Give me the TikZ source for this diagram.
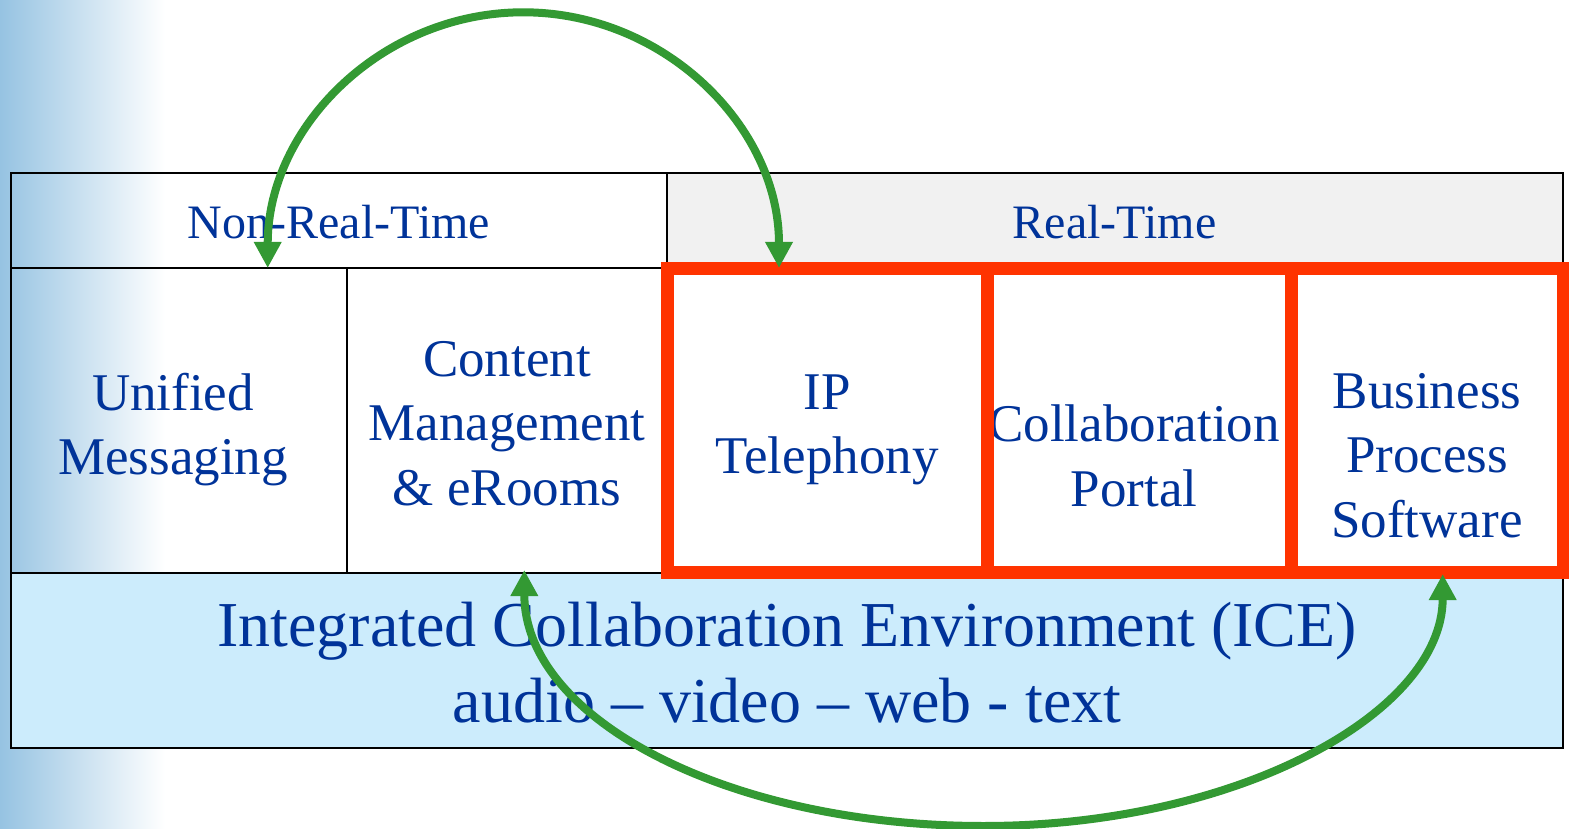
\documentclass[tikz,border=0pt]{standalone}
\usepackage{fontspec}
\setmainfont{Liberation Serif}
\usetikzlibrary{arrows.meta}

\definecolor{labelblue}{RGB}{0,51,153}
\definecolor{iceblue}{RGB}{204,236,252}
\definecolor{headgray}{RGB}{241,241,241}
\definecolor{focusred}{RGB}{255,51,0}
\definecolor{linkgreen}{RGB}{51,153,51}
\definecolor{skyblue}{RGB}{150,195,226}

\begin{document}
\begin{tikzpicture}[x=1pt,y=-1pt,
  grid/.style={draw=black,line width=2pt},
  head/.style={font=\fontsize{48}{56}\selectfont,text=labelblue,inner sep=0pt,anchor=base},
  cell/.style={font=\fontsize{53}{64.3}\selectfont,text=labelblue,align=center,inner sep=0pt,
    execute at begin node={\rule{0pt}{40pt}},
    execute at end node={\rule[-14pt]{0pt}{14pt}}},
  ice/.style={font=\fontsize{64}{76.7}\selectfont,text=labelblue,align=center,inner sep=0pt,
    execute at begin node={\rule{0pt}{48pt}},
    execute at end node={\rule[-16pt]{0pt}{16pt}}},
  focus/.style={draw=focusred,line width=12.5pt},
  >={Triangle[length=26pt,width=26pt]},
  link/.style={draw=linkgreen,line width=8pt,<->}]

% page and soft sky strip on the left
\fill[white] (0,0) rectangle (1569,829);
\useasboundingbox (0,0) rectangle (1569,829);
\fill[left color=skyblue,middle color=skyblue!45!white,right color=white] (0,0) rectangle (165,829);

% table fills and grid
\fill[headgray] (667,173) rectangle (1563,268);
\fill[iceblue] (11,572.5) rectangle (1563,748);
\draw[grid] (11,173) rectangle (1563,748);
\draw[grid] (11,268) -- (1563,268);
\draw[grid] (11,572.5) -- (1563,572.5);
\draw[grid] (667,173) -- (667,572.5);
\draw[grid] (347,268) -- (347,572.5);

% headers
\node[head] (nrt) at (339,239) {Non-Real-Time};
\node[head] (rt) at (1114.5,239) {Real-Time};

% application cells
\node[cell] (um) at (173,430.6) {Unified\\Messaging};
\node[cell] (cm) at (507,430.2) {Content\\Management\\\& eRooms};
\node[cell] (ipt) at (827,431) {IP\\Telephony};
\node[cell] (cp) at (1134,462.7) {Collaboration\\Portal};
\node[cell] (bps) at (1427,462.2) {Business\\Process\\Software};

% environment band
\node[ice] (ice) at (787,670.4) {Integrated Collaboration Environment (ICE)\\audio \textendash{} video \textendash{} web - text};

% highlighted real-time applications
\draw[focus] (667.5,268.5) rectangle (987.5,572.5);
\draw[focus] (987.5,268.5) rectangle (1291.5,572.5);
\draw[focus] (1291.5,268.5) rectangle (1563.5,572.5);

% link ends
\coordinate (umIn) at (267.7,268);
\coordinate (topArc) at (523.3,12.3);
\coordinate (ipIn) at (779,268);
\coordinate (cmIn) at (524.3,570);
\coordinate (lowArc) at (983.5,826);
\coordinate (bpIn) at (1442.7,574);

% links
\draw[link] (umIn) .. controls +(0,-141.2) and +(-141.2,0) .. (topArc)
  .. controls +(141.2,0) and +(0,-141.2) .. (ipIn);
\draw[link] (cmIn) .. controls +(0,150) and +(-253.6,0) .. (lowArc)
  .. controls +(253.6,0) and +(0,139.2) .. (bpIn);
\end{tikzpicture}
\end{document}
